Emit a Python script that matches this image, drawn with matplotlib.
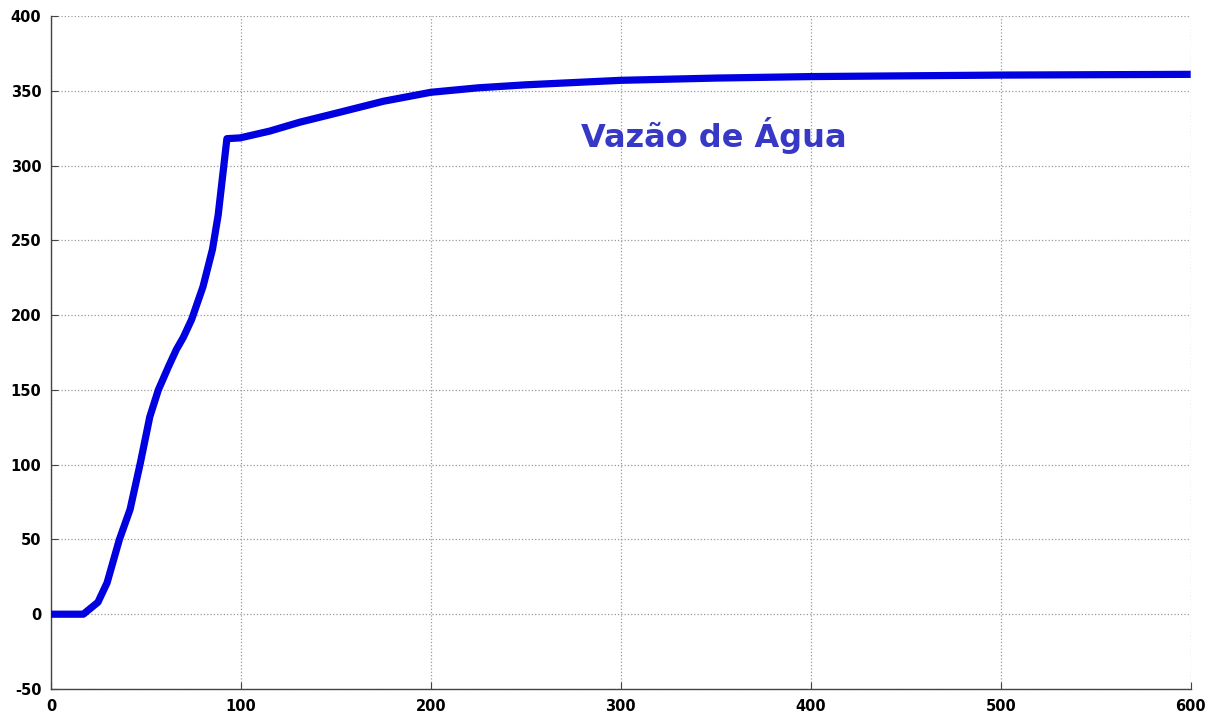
import matplotlib.pyplot as plt
import numpy as np

plt.rcParams['axes.unicode_minus'] = False

# water flow response over time
tempo = [0, 17, 24.7, 29.5, 36, 41.6, 47, 52, 56.5, 62, 66, 69.6, 74, 80, 85, 88,
         92.6, 99.5, 115, 131, 150, 175, 200, 225, 250, 300, 350, 400, 500, 600]
vazao = [0, 0, 8, 21, 50, 70, 101, 132, 150, 166, 177, 185, 197, 219, 244, 267,
         318, 318.5, 323, 329, 335, 343, 349, 352, 354, 357, 358.5, 359.5, 360.5, 361]

x_ticks = np.arange(0, 601, 100)
y_ticks = np.arange(-50, 401, 50)

fig = plt.figure(figsize=(12.15, 7.15), dpi=100)
ax = fig.add_axes([0.042, 0.0364, 0.938, 0.9412])

ax.plot(tempo, vazao, color=(0.0, 0.0, 0.88), linewidth=5.2, solid_joinstyle='round',
        solid_capstyle='butt', zorder=3)

ax.text(349, 320, "Vazão de Água", color=(0.22, 0.22, 0.78), fontsize=23,
        fontweight='bold', family='DejaVu Sans', ha='center', va='center')

ax.set_xlim(0, 600)
ax.set_ylim(-50, 400)
ax.set_xticks(x_ticks)
ax.set_yticks(y_ticks)
ax.grid(True, linestyle=':', color='#999999', linewidth=0.9)
ax.spines['top'].set_visible(False)
ax.spines['right'].set_visible(False)
for s in ('left', 'bottom'):
    ax.spines[s].set_color('#444444')
    ax.spines[s].set_linewidth(1.0)
ax.tick_params(direction='in', length=5, color='#444444', labelsize=10.5, pad=7)
for lab in ax.get_xticklabels() + ax.get_yticklabels():
    lab.set_fontweight('bold')

fig.savefig("out.png", dpi=100)
